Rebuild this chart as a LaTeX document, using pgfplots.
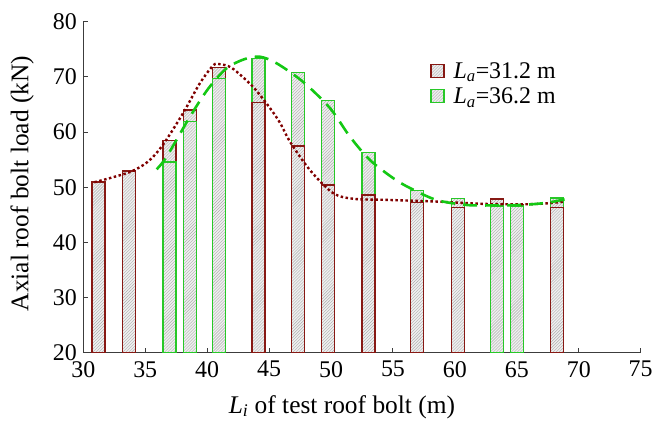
\documentclass[border=0pt]{standalone}
\usepackage{fontspec}
\setmainfont{Liberation Serif}
\usepackage{pgfplots}
\pgfplotsset{compat=1.18}
\usetikzlibrary{patterns}

\definecolor{barred}{RGB}{135,25,20}
\definecolor{bargreen}{RGB}{40,200,40}
\definecolor{curvered}{RGB}{128,0,0}
\definecolor{curvegreen}{RGB}{20,200,20}
\definecolor{axisgray}{RGB}{60,60,60}

\pgfplotsset{
  hbar/.style={ybar, bar width=1.05, bar shift=0pt, line width=1.2bp,
    fill=gray!12, postaction={pattern=north east lines, pattern color=gray!65},
    forget plot},
}

\begin{document}
\begin{tikzpicture}
% page = 655 x 424, axis box at (83.3,21.7)-(640.7,352.7) from top left
\useasboundingbox (-83.3bp,-71.3bp) rectangle (571.7bp,352.7bp);
\begin{axis}[
  at={(0,0)}, anchor=south west,
  scale only axis, width=557.4bp, height=331bp,
  xmin=30, xmax=75, ymin=20, ymax=80,
  xtick={30,35,...,75}, ytick={20,30,...,80},
  axis lines=left,
  axis line style={axisgray, line width=1.2bp, -},
  tick style={axisgray, line width=1bp},
  tick align=inside, major tick length=5bp,
  ticklabel style={font=\fontsize{24}{28}\selectfont},
  xticklabel style={yshift=-5bp},
  yticklabel style={xshift=-3bp},
  /pgf/number format/assume math mode=true,
  label style={font=\fontsize{25.5}{30}\selectfont},
  xlabel={\textit{L}\textsubscript{\textit{i}} of test roof bolt (m)},
  xlabel style={at={([yshift=-60.3bp]axis description cs:0.464,0)}, anchor=base},
  ylabel={Axial roof bolt load (kN)},
  ylabel style={at={([xshift=-54.8bp]axis description cs:0,0.511)}, anchor=base},
  legend style={at={(0.617,0.89)}, anchor=north west, draw=none, fill=none,
    font=\fontsize{24}{28}\selectfont, row sep=4bp},
  legend cell align=left,
  legend image code/.code={\draw[#1] (0bp,-6.5bp) rectangle (13bp,6.5bp);
    \path (20bp,0bp);},
]
% green bars taller than red (drawn behind)
\addplot[hbar, draw=bargreen] coordinates {
  (44.14,73.36) (47.33,70.75) (49.75,65.68) (53.02,56.25) (56.93,49.36)
  (60.24,47.9) (68.23,48.04)};
% red bars, La = 31.2 m
\addplot[hbar, draw=barred] coordinates {
  (31.23,50.94) (33.69,52.93) (36.96,58.43) (38.61,63.99) (40.95,71.66)
  (44.14,65.31) (47.33,57.47) (49.75,50.40) (53.02,48.58) (56.93,47.26)
  (60.24,46.36) (63.37,47.86) (65.0,46.83) (68.23,46.36)};
% green bars shorter than red (drawn in front)
\addplot[hbar, draw=bargreen] coordinates {
  (36.96,54.57) (38.61,61.87) (40.95,69.74) (63.37,46.6) (65.0,46.6)};

% fitted curves
\addplot[curvered, line width=2.4bp, dash pattern=on 2.5bp off 2.5bp, smooth, tension=0.5, forget plot] coordinates {
  (30.9,50.9) (33.7,52.7) (35.2,54.6) (36.4,57.6) (38.05,63.4) (39.4,68.8)
  (40.5,72.1) (41.0,72.3) (42.0,71.6) (43.7,68.2) (45.07,64.35) (45.9,61.6)
  (46.7,58.2) (48.3,53.1) (50.15,48.95) (51.8,47.9) (54.5,47.7) (58.5,47.4)
  (62,47.0) (65,46.9) (67,47.0) (68.9,47.4)};
\addplot[curvegreen, line width=2.6bp, dash pattern=on 14bp off 8bp, smooth, tension=0.5, forget plot] coordinates {
  (35.92,53.24) (36.73,55.53) (38.61,62.78) (40.1,67.9) (41.57,71.55)
  (43.0,73.2) (44.26,73.65) (45.61,72.46) (47.73,69.12) (49.91,64.35)
  (51.53,59.15) (53.14,54.93) (55.0,51.67) (56.37,49.85) (58.52,47.68)
  (60.94,46.78) (63.0,46.7) (65.5,46.8) (67.5,47.2) (68.96,47.86)};

\addlegendimage{draw=barred, line width=1.2bp, fill=gray!12, postaction={pattern=north east lines, pattern color=gray!65}}
\addlegendentry{\textit{L}\textsubscript{\textit{a}}=31.2 m}
\addlegendimage{draw=bargreen, line width=1.2bp, fill=gray!12, postaction={pattern=north east lines, pattern color=gray!65}}
\addlegendentry{\textit{L}\textsubscript{\textit{a}}=36.2 m}
\end{axis}
\end{tikzpicture}
\end{document}
